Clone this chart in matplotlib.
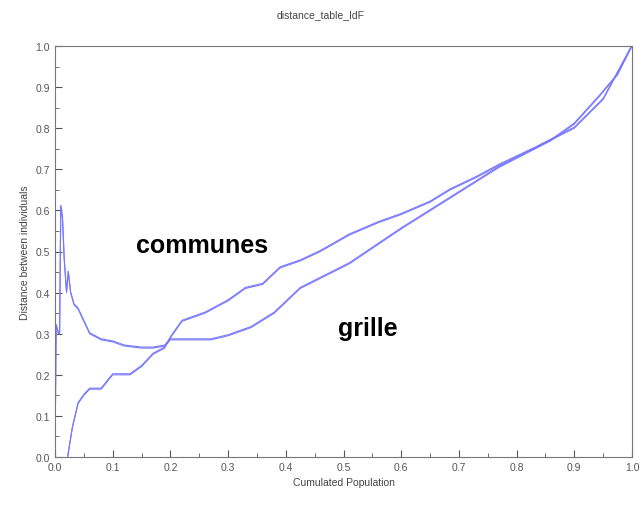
import matplotlib.pyplot as plt
import numpy as np

# curve ending lower on the right ("grille")
grille_x = [0.0, 0.002, 0.004, 0.006, 0.008, 0.010, 0.013, 0.016, 0.020, 0.023, 0.027, 0.033,
            0.040, 0.050, 0.060, 0.080, 0.100, 0.120, 0.150, 0.170, 0.190, 0.200, 0.230,
            0.270, 0.300, 0.340, 0.380, 0.425, 0.510, 0.600, 0.685, 0.770, 0.860, 0.900,
            0.945, 0.975, 1.0]
grille_y = [0.0, 0.32, 0.31, 0.30, 0.30, 0.61, 0.58, 0.48, 0.40, 0.45, 0.40, 0.37,
            0.36, 0.33, 0.30, 0.285, 0.28, 0.27, 0.265, 0.265, 0.27, 0.285, 0.285,
            0.285, 0.295, 0.315, 0.35, 0.41, 0.47, 0.555, 0.63, 0.705, 0.77, 0.81,
            0.88, 0.93, 1.0]

# curve ending higher in the middle ("communes")
communes_x = [0.022, 0.030, 0.040, 0.050, 0.060, 0.080, 0.100, 0.130, 0.150, 0.170,
              0.190, 0.200, 0.220, 0.260, 0.300, 0.330, 0.360, 0.390, 0.425, 0.460,
              0.510, 0.560, 0.600, 0.650, 0.685, 0.730, 0.770, 0.830, 0.900, 0.950, 1.0]
communes_y = [0.0, 0.07, 0.13, 0.15, 0.165, 0.165, 0.20, 0.20, 0.22, 0.25,
              0.265, 0.29, 0.33, 0.35, 0.38, 0.41, 0.42, 0.46, 0.477, 0.50,
              0.54, 0.57, 0.59, 0.62, 0.65, 0.68, 0.71, 0.75, 0.80, 0.87, 1.0]

plt.rcParams['font.family'] = ['Liberation Sans', 'DejaVu Sans']
fig = plt.figure(figsize=(6.42, 5.10), dpi=100)
ax = fig.add_axes([55 / 642, 1 - 458 / 510, 577 / 642, 411 / 510])

blue = '#7878ff'
for dy in (0.0, 0.0025):
    ax.plot(grille_x, np.array(grille_y) + dy, color=blue, lw=0.8)
    ax.plot(communes_x, np.array(communes_y) + dy, color=blue, lw=0.8)

ax.set_xlim(0, 1)
ax.set_ylim(0, 1)
ticks = np.round(np.arange(0, 1.01, 0.1), 1)
ax.set_xticks(ticks, [f'{t:.1f}' for t in ticks])
ax.set_yticks(ticks, [f'{t:.1f}' for t in ticks])
ax.set_xticks(np.arange(0, 1.01, 0.05), minor=True)
ax.set_yticks(np.arange(0, 1.01, 0.05), minor=True)
ax.tick_params(colors='#555555', labelsize=7.5, direction='in', length=5)
ax.tick_params(which='minor', direction='in', length=3, color='#555555')
for s in ax.spines.values():
    s.set_color('#777777')

ax.set_xlabel('Cumulated Population', fontsize=7.5, color='#444444')
ax.set_ylabel('Distance between individuals', fontsize=7.5, color='#444444')
fig.text(0.5, 0.965, 'distance_table_IdF', ha='center', fontsize=7.5, color='#444444')

ax.text(0.14, 0.515, 'communes', fontsize=18, fontweight='bold', va='center')
ax.text(0.49, 0.315, 'grille', fontsize=18, fontweight='bold', va='center')

fig.savefig('out.png', dpi=100)
